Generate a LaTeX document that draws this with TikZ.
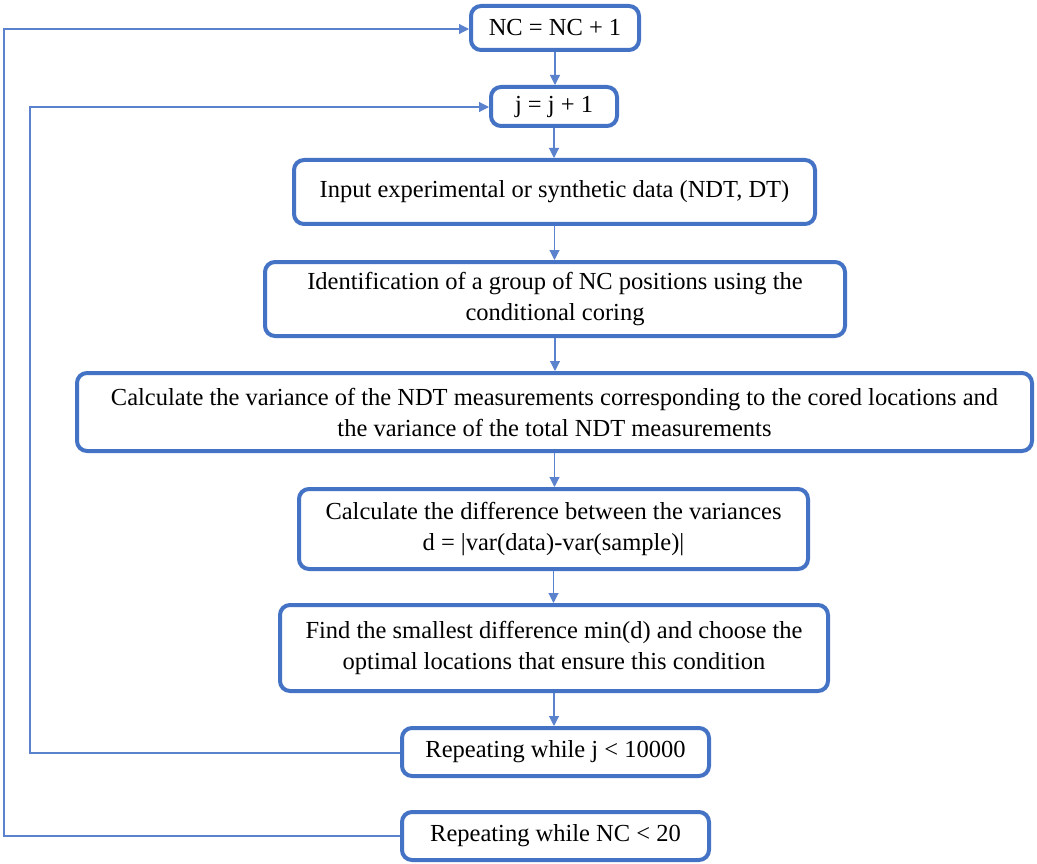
\documentclass[tikz,border=0pt]{standalone}
\usepackage{fontspec}
\setmainfont{Liberation Serif}
\usetikzlibrary{arrows.meta,positioning}
\definecolor{boxblue}{HTML}{4472C4}
\definecolor{lineblue}{HTML}{5B82CC}
\begin{document}
\begin{tikzpicture}[x=1pt,y=-1pt,
  flowbox/.style={draw=boxblue, line width=4pt, rounded corners=10pt, fill=white,
    inner sep=0pt, align=center, font=\fontsize{24.5}{31}\selectfont},
  conn/.style={draw=lineblue, line width=1.1pt, -{Triangle[length=10pt,width=10pt]}},
  plainconn/.style={draw=lineblue, line width=1.1pt}]
\useasboundingbox (0,0) rectangle (1037,864);
\node[flowbox, minimum width=168pt, minimum height=44pt] (b1) at (555,28) {NC = NC + 1};
\node[flowbox, minimum width=126pt, minimum height=39pt] (b2) at (554,106.5) {j = j + 1};
\node[flowbox, minimum width=521pt, minimum height=64pt] (b3) at (554.5,192) {Input experimental or synthetic data (NDT, DT)};
\node[flowbox, minimum width=580pt, minimum height=74pt] (b4) at (555,299) {Identification of a group of NC positions using the\\conditional coring};
\node[flowbox, minimum width=955pt, minimum height=78pt] (b5) at (554.5,412) {Calculate the variance of the NDT measurements corresponding to the cored locations and\\the variance of the total NDT measurements};
\node[flowbox, minimum width=509pt, minimum height=80pt] (b6) at (553.5,529) {Calculate the difference between the variances\\d = |var(data)-var(sample)|};
\node[flowbox, minimum width=548pt, minimum height=86pt] (b7) at (554,648) {Find the smallest difference min(d) and choose the\\optimal locations that ensure this condition};
\node[flowbox, minimum width=307pt, minimum height=48pt] (b8) at (555.5,752) {Repeating while j < 10000};
\node[flowbox, minimum width=307pt, minimum height=48pt] (b9) at (555.5,836) {Repeating while NC < 20};
\coordinate (c1) at (4,836);
\coordinate (c2) at (4,29);
\coordinate (d1) at (30,753);
\coordinate (d2) at (30,107);
\draw[conn] (b1.south) -- (b1.south |- b2.north);
\draw[conn] (b2.south) -- (b2.south |- b3.north);
\draw[conn] (b3.south) -- (b3.south |- b4.north);
\draw[conn] (b4.south) -- (b4.south |- b5.north);
\draw[conn] (b5.south) -- (b5.south |- b6.north);
\draw[conn] (b6.south) -- (b6.south |- b7.north);
\draw[conn] (b7.south) -- (b7.south |- b8.north);
\draw[conn] (b9.west) -- (c1) -- (c2) -- (b1.west |- c2);
\draw[conn] (b8.west |- d1) -- (d1) -- (d2) -- (b2.west |- d2);
\end{tikzpicture}
\end{document}
